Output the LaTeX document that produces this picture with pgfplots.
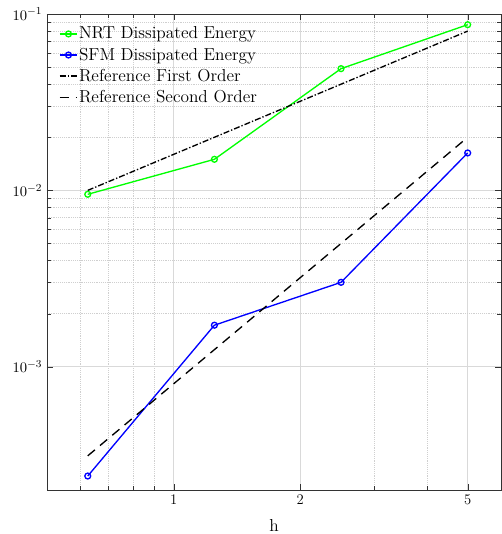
\documentclass[border=0pt]{standalone}
\usepackage{pgfplots}
\pgfplotsset{compat=1.18}
\begin{document}
\begin{tikzpicture}
\begin{loglogaxis}[
  scale only axis,
  width=340.5pt, height=357pt,
  xmin=0.5, xmax=6, ymin=2e-4, ymax=0.1,
  xtick={1,2,5}, xticklabels={1,2,5},
  minor xtick={0.6,0.7,0.8,0.9,3,4},
  ytick={1e-3,1e-2,1e-1},
  tick label style={font=\fontsize{11}{13}\selectfont},
  grid=both,
  major grid style={solid, gray!30, line width=0.4pt},
  minor grid style={densely dotted, gray!38, line width=0.4pt},
  axis line style={line width=0.7pt, black!80},
  tick style={black!80},
  xlabel={h},
  xlabel style={font=\fontsize{13}{15}\selectfont, yshift=-4pt},
  legend style={draw=none, fill=none, at={(0,1)}, anchor=north west, xshift=6pt, yshift=-5.5pt,
    row sep=1.2pt, font=\fontsize{13}{15}\selectfont,
    nodes={inner xsep=1pt}},
  legend cell align=left,
  legend image code/.code={\draw[#1] (0cm,0cm) -- (0.45cm,0cm); \draw[#1, mark repeat=2, mark phase=2] plot coordinates {(0cm,0cm) (0.225cm,0cm) (0.45cm,0cm)};},
]
\addplot[color={rgb,1:red,0;green,1;blue,0}, line width=1pt, mark=o, mark size=2.2pt] coordinates {
  (0.625,0.0095) (1.25,0.0150) (2.5,0.049) (5,0.087)};
\addlegendentry{NRT Dissipated Energy}
\addplot[color={rgb,1:red,0;green,0;blue,1}, line width=1pt, mark=o, mark size=2.2pt] coordinates {
  (0.625,0.00024) (1.25,0.00172) (2.5,0.00301) (5,0.0163)};
\addlegendentry{SFM Dissipated Energy}
\addplot[black, line width=1pt, dash pattern=on 4.5pt off 1.5pt on 1pt off 1.5pt] coordinates {
  (0.625,0.01) (5,0.08)};
\addlegendentry{Reference First Order}
\addplot[black, line width=1pt, dash pattern=on 7pt off 5pt] coordinates {
  (0.625,0.0003125) (5,0.02)};
\addlegendentry{Reference Second Order}
\end{loglogaxis}
\pgfresetboundingbox
\path ([xshift=-35.25pt,yshift=-33pt]current axis.south west) rectangle ([xshift=0.75pt,yshift=10.5pt]current axis.north east);
\end{tikzpicture}
\end{document}
